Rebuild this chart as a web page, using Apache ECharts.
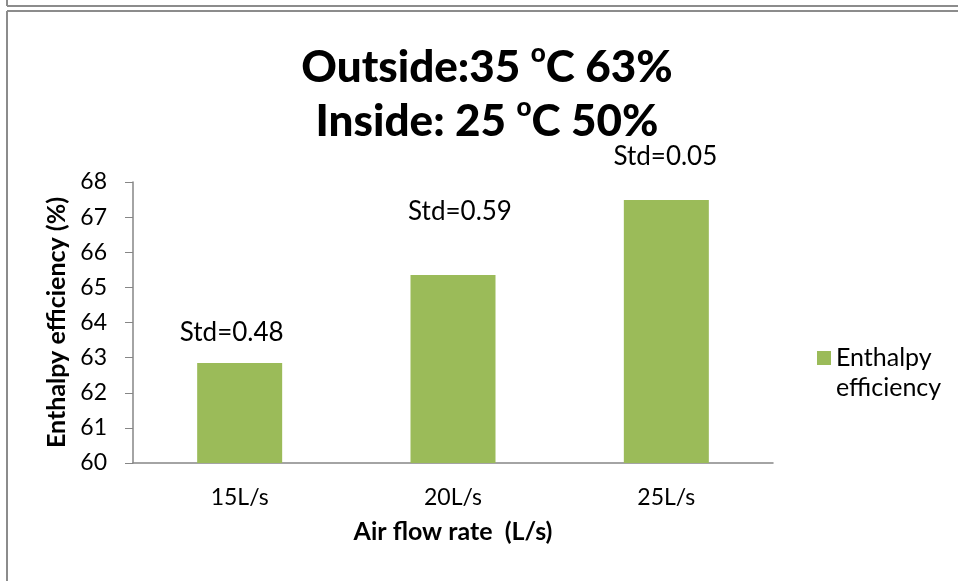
<!DOCTYPE html>
<html>
<head>
<meta charset="utf-8">
<script src="https://cdn.jsdelivr.net/npm/echarts@6/dist/echarts.min.js"></script>
<style>html,body{margin:0;padding:0;background:#fff}#c{width:958px;height:581px}</style>
</head>
<body>
<div id="c"></div>
<script>
const categories = ['15L/s', '20L/s', '25L/s'];
const efficiency = [62.85, 65.35, 67.49];
const stdLabels = ['Std=0.48', 'Std=0.59', 'Std=0.05'];
const yTicks = { min: 60, max: 68, interval: 1 };
const seriesName = 'Enthalpy efficiency';
const xAxisName = 'Air flow rate  (L/s)';
const yAxisName = 'Enthalpy efficiency (%)';
const titleLine1 = ['Outside:35 ', 'o', 'C 63%'];
const titleLine2 = ['Inside: 25 ', 'o', 'C 50%'];

// label placement (style)
const labelDist = [17, 50, 30];
const labelDx = [-8, 7, -1];

const FONT = 'Lato';
const chart = echarts.init(document.getElementById('c'), null, { renderer: 'canvas' });
const frameColor = '#8c8c8c';

chart.setOption({
  animation: false,
  backgroundColor: '#fff',
  textStyle: { fontFamily: FONT },
  grid: { left: 133, right: 185, top: 182, bottom: 118, containLabel: false },
  graphic: [
    { type: 'line', shape: { x1: 7, y1: 0, x2: 7, y2: 6 }, style: { stroke: frameColor, lineWidth: 2 } },
    { type: 'line', shape: { x1: 7, y1: 6, x2: 958, y2: 6 }, style: { stroke: frameColor, lineWidth: 2 } },
    { type: 'line', shape: { x1: 7, y1: 11, x2: 958, y2: 11 }, style: { stroke: frameColor, lineWidth: 2 } },
    { type: 'line', shape: { x1: 7, y1: 11, x2: 7, y2: 581 }, style: { stroke: frameColor, lineWidth: 2 } },
    {
      type: 'text', x: 487, y: 41,
      style: {
        text: '{b|' + titleLine1[0] + '}{s|' + titleLine1[1] + '}{b|' + titleLine1[2] + '}\n' +
              '{b|' + titleLine2[0] + '}{s|' + titleLine2[1] + '}{b|' + titleLine2[2] + '}',
        textAlign: 'center', textVerticalAlign: 'top',
        rich: {
          b: { fontFamily: FONT, fontWeight: 900, fontSize: 44, lineHeight: 54, fill: '#000' },
          s: { fontFamily: FONT, fontWeight: 900, fontSize: 26, lineHeight: 30, verticalAlign: 'top', fill: '#000' }
        }
      }
    }
  ],
  legend: {
    orient: 'vertical', left: 812, top: 308,
    itemWidth: 14, itemHeight: 14, itemGap: 10,
    icon: 'rect',
    data: [seriesName],
    formatter: n => ' \n' + n.replace(' ', '\n'),
    textStyle: { fontFamily: FONT, fontSize: 25, color: '#000', lineHeight: 30 }
  },
  xAxis: {
    type: 'category', data: categories,
    name: xAxisName, nameLocation: 'middle', nameGap: 56,
    nameTextStyle: { fontFamily: FONT, fontWeight: 'bold', fontSize: 25, color: '#000' },
    axisLine: { lineStyle: { color: '#868686', width: 1.5 } },
    axisTick: { show: false },
    axisLabel: { fontFamily: FONT, fontSize: 23, color: '#000', margin: 23 },
    splitLine: { show: false }
  },
  yAxis: {
    type: 'value', min: yTicks.min, max: yTicks.max, interval: yTicks.interval,
    name: yAxisName, nameLocation: 'middle', nameGap: 58, nameRotate: 90,
    nameTextStyle: { fontFamily: FONT, fontWeight: 'bold', fontSize: 25, color: '#000' },
    axisLine: { show: true, lineStyle: { color: '#868686', width: 1.5 } },
    axisTick: { show: true, length: 8, lineStyle: { color: '#868686' } },
    axisLabel: { fontFamily: FONT, fontSize: 23, color: '#000', margin: 26 },
    splitLine: { show: false }
  },
  series: [{
    name: seriesName, type: 'bar', barWidth: 85,
    itemStyle: { color: '#9bbb59' },
    data: efficiency.map((v, i) => ({
      value: v,
      label: {
        show: true, position: 'top', distance: labelDist[i], offset: [labelDx[i], 0],
        formatter: () => stdLabels[i],
        fontFamily: FONT, fontSize: 26, color: '#000'
      }
    }))
  }]
});
</script>
</body>
</html>
